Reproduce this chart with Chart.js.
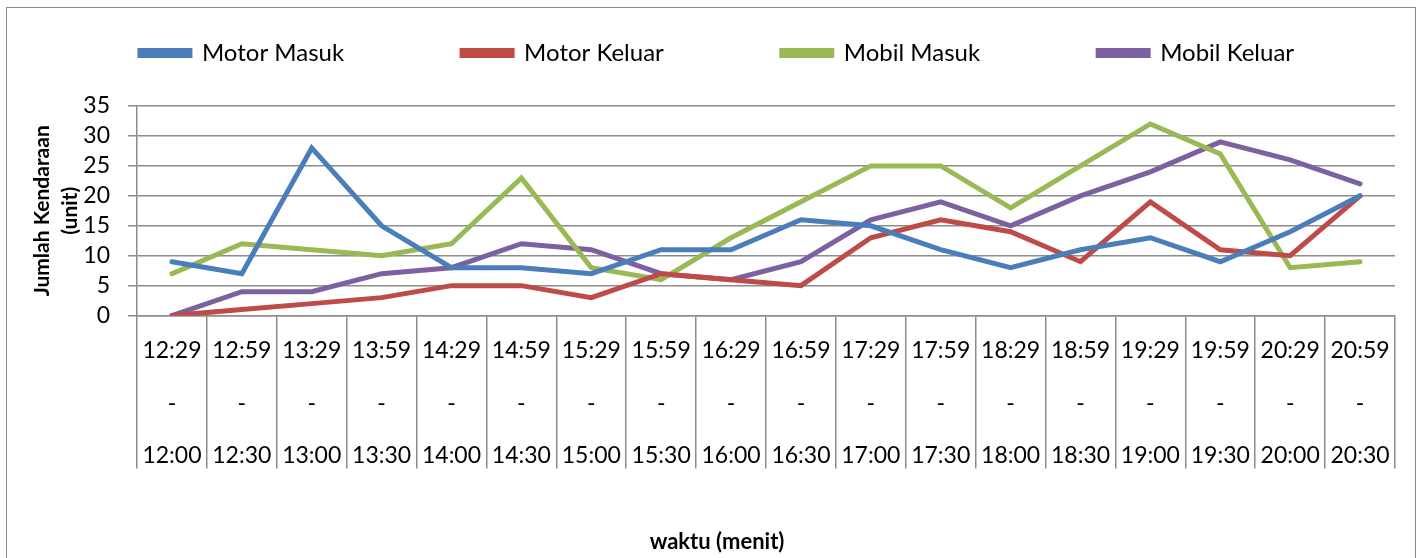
<!DOCTYPE html>
<html>
<head>
<meta charset="utf-8">
<script src="https://cdn.jsdelivr.net/npm/chart.js@4/dist/chart.umd.min.js"></script>
<style>
  html, body { margin: 0; padding: 0; background: #fff; }
  #wrap  { position: absolute; left: 0; top: 0; width: 1424px; height: 558px; }
  #frame { position: absolute; left: 6px; top: 7px; width: 1410px; height: 560px;
           border: 1.5px solid #8a8a8a; box-sizing: border-box; }
</style>
</head>
<body>
<div id="wrap">
  <div id="frame"></div>
  <canvas id="chart" width="1424" height="558"></canvas>
</div>
<script>
// ── Data ─────────────────────────────────────
const startTimes = ['12:29', '12:59', '13:29', '13:59', '14:29', '14:59', '15:29', '15:59', '16:29',
                    '16:59', '17:29', '17:59', '18:29', '18:59', '19:29', '19:59', '20:29', '20:59'];
const endTimes   = ['12:00', '12:30', '13:00', '13:30', '14:00', '14:30', '15:00', '15:30', '16:00',
                    '16:30', '17:00', '17:30', '18:00', '18:30', '19:00', '19:30', '20:00', '20:30'];

const motorMasuk  = [9, 7, 28, 15, 8, 8, 7, 11, 11, 16, 15, 11, 8, 11, 13, 9, 14, 20];
const motorKeluar = [0, 1, 2, 3, 5, 5, 3, 7, 6, 5, 13, 16, 14, 9, 19, 11, 10, 20];
const mobilMasuk  = [7, 12, 11, 10, 12, 23, 8, 6, 13, 19, 25, 25, 18, 25, 32, 27, 8, 9];
const mobilKeluar = [0, 4, 4, 7, 8, 12, 11, 7, 6, 9, 16, 19, 15, 20, 24, 29, 26, 22];

const yTicks = [0, 5, 10, 15, 20, 25, 30, 35];

// ── Style ────────────────────────────────────
const FONT   = 'Lato, "Open Sans", sans-serif';
const GRID   = '#8c8c8c';
const COLORS = {
  motorMasuk:  '#4a7ebb',
  motorKeluar: '#be4b48',
  mobilMasuk:  '#98b954',
  mobilKeluar: '#7d60a0'
};

// legend items sit far apart; Chart.js uses the same padding vertically,
// so the legend box is pulled up to keep its text at the right height
const LEGEND_PAD = 118;

const labels = startTimes.map((s, i) => [s, '-', endTimes[i]]);

function series(label, data, color) {
  return {
    label,
    data,
    borderColor:     color,
    backgroundColor: color,
    borderWidth:     5,
    borderCapStyle:  'round',
    borderJoinStyle: 'miter',
    pointRadius:     0,
    tension:         0
  };
}

new Chart(document.getElementById('chart'), {
  type: 'line',
  data: {
    labels,
    datasets: [
      series('Motor Masuk',  motorMasuk,  COLORS.motorMasuk),
      series('Motor Keluar', motorKeluar, COLORS.motorKeluar),
      series('Mobil Masuk',  mobilMasuk,  COLORS.mobilMasuk),
      series('Mobil Keluar', mobilKeluar, COLORS.mobilKeluar)
    ]
  },
  options: {
    responsive: false,
    animation:  false,
    layout: { padding: { left: 10, right: 0, top: 53 - 12 - LEGEND_PAD, bottom: 0 } },
    plugins: {
      legend: {
        position: 'top',
        labels: {
          color:     '#000',
          font:      { family: FONT, size: 24 },
          boxWidth:  50,
          boxHeight: 5,
          padding:   LEGEND_PAD
        }
      },
      title: {
        display:  true,
        position: 'bottom',
        text:     'waktu (menit)',
        color:    '#000',
        font:     { family: FONT, size: 22, weight: 'bold' },
        padding:  { top: 13, bottom: 3 }
      },
      tooltip: { enabled: false }
    },
    scales: {
      x: {
        offset: true,
        grid: {
          offset:          true,
          drawOnChartArea: false,
          color:           GRID,
          lineWidth:       1.5,
          tickLength:      153
        },
        border: { color: GRID, width: 1.5 },
        ticks: {
          color:       '#000',
          font:        { family: FONT, size: 23, lineHeight: 2.28 },
          padding:     -144,
          maxRotation: 0,
          autoSkip:    false
        },
        afterFit: (scale) => { scale.height = 200; }
      },
      // empty top axis: gap between legend and plot
      xTop: {
        position: 'top',
        grid:     { display: false },
        border:   { display: false },
        ticks:    { display: false },
        afterFit: (scale) => { scale.height = 31; }
      },
      y: {
        min: yTicks[0],
        max: yTicks[yTicks.length - 1],
        grid: {
          color:      GRID,
          lineWidth:  1.5,
          tickLength: 9
        },
        border: { color: GRID, width: 1.5 },
        ticks: {
          stepSize: yTicks[1] - yTicks[0],
          autoSkip: false,
          color:    '#000',
          font:     { family: FONT, size: 23, lineHeight: 1 },
          padding:  18
        },
        title: {
          display: true,
          text:    ['Jumlah Kendaraan', '(unit)'],
          color:   '#000',
          font:    { family: FONT, size: 21, weight: 'bold', lineHeight: 1.3 },
          padding: { top: 19, bottom: 0 }
        },
        afterFit: (scale) => { scale.width = 127; }
      },
      // empty right-hand axis: only reserves the margin right of the plot
      yRight: {
        position: 'right',
        grid:     { display: false },
        border:   { display: false },
        ticks:    { display: false },
        afterFit: (scale) => { scale.width = 29; }
      }
    }
  }
});
</script>
</body>
</html>
